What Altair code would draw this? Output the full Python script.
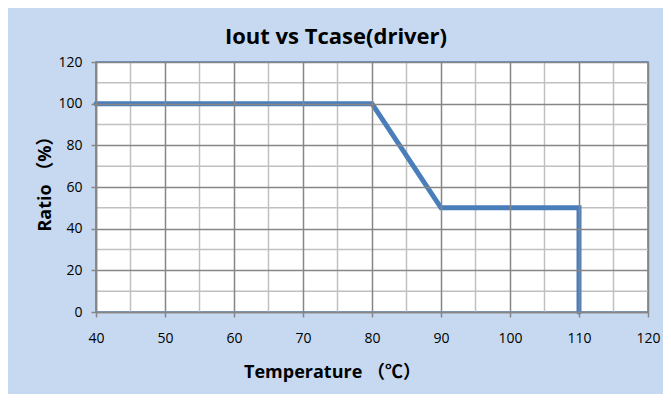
import altair as alt
import pandas as pd

# Data
temps = [40, 80, 90, 110, 110]
ratios = [100, 100, 50, 50, 0]
x_major = [40, 50, 60, 70, 80, 90, 100, 110, 120]
x_minor = [45, 55, 65, 75, 85, 95, 105, 115]
y_major = [0, 20, 40, 60, 80, 100, 120]
y_minor = [10, 30, 50, 70, 90, 110]

FONT = '"Open Sans", "Noto Sans CJK SC", sans-serif'
BG = "#c6d9f1"
LINE = "#4a7ebb"

df = pd.DataFrame({"t": temps, "r": ratios, "i": list(range(len(temps)))})
dfx = pd.DataFrame({"t": x_minor})
dfy = pd.DataFrame({"r": y_minor})

xscale = alt.Scale(domain=[40, 120], nice=False, zero=False)
yscale = alt.Scale(domain=[0, 120], nice=False)

xaxis = alt.Axis(
    values=x_major,
    title="Temperature （℃）",
    titleFont=FONT,
    titleFontSize=18,
    titleFontWeight="bold",
    titleColor="#000000",
    titleX=236,
    titleY=60,
    titleAlign="center",
    titleBaseline="middle",
    labelFont=FONT,
    labelFontSize=14,
    labelColor="#000000",
    labelPadding=14,
    labelFlush=False,
    labelOverlap=False,
    tickSize=5,
    tickColor="#868686",
    tickWidth=1.5,
    domainColor="#868686",
    domainWidth=1.5,
    gridColor="#868686",
    gridWidth=1.5,
    zindex=1,
)
yaxis = alt.Axis(
    values=y_major,
    title="Ratio （%）",
    titleFont=FONT,
    titleFontSize=18,
    titleFontWeight="bold",
    titleColor="#000000",
    titleX=-51,
    titleY=117,
    titleAlign="center",
    titleBaseline="middle",
    titleAngle=270,
    labelFont=FONT,
    labelFontSize=14,
    labelColor="#000000",
    labelPadding=9,
    labelOverlap=False,
    tickSize=5,
    tickColor="#868686",
    tickWidth=1.5,
    domainColor="#868686",
    domainWidth=1.5,
    gridColor="#868686",
    gridWidth=1.5,
    zindex=1,
)

line = alt.Chart(df).mark_line(
    color=LINE, strokeWidth=5, strokeCap="round", strokeJoin="miter"
).encode(
    x=alt.X("t:Q", scale=xscale, axis=xaxis),
    y=alt.Y("r:Q", scale=yscale, axis=yaxis),
    order="i:Q",
)

minor_x = alt.Chart(dfx).mark_rule(color="#c0c0c0", strokeWidth=1.5).encode(
    x=alt.X("t:Q", scale=xscale, axis=xaxis)
)
minor_y = alt.Chart(dfy).mark_rule(color="#c0c0c0", strokeWidth=1.5).encode(
    y=alt.Y("r:Q", scale=yscale, axis=yaxis)
)

chart = alt.layer(minor_x, minor_y, line).properties(
    width=552,
    height=250,
    autosize=alt.AutoSizeParams(type="none"),
    padding={"left": 88, "top": 54, "right": 15, "bottom": 82},
    background=BG,
    title=alt.Title(
        "Iout vs Tcase(driver)",
        font=FONT,
        fontSize=22,
        fontWeight="bold",
        color="#000000",
        anchor="middle",
        frame="group",
        dx=-36,
        offset=6,
    ),
).configure_view(
    fill="#ffffff", stroke=LINE, strokeWidth=1.5
)

chart.save("out.html", embed_options={"renderer": "svg", "actions": False})
